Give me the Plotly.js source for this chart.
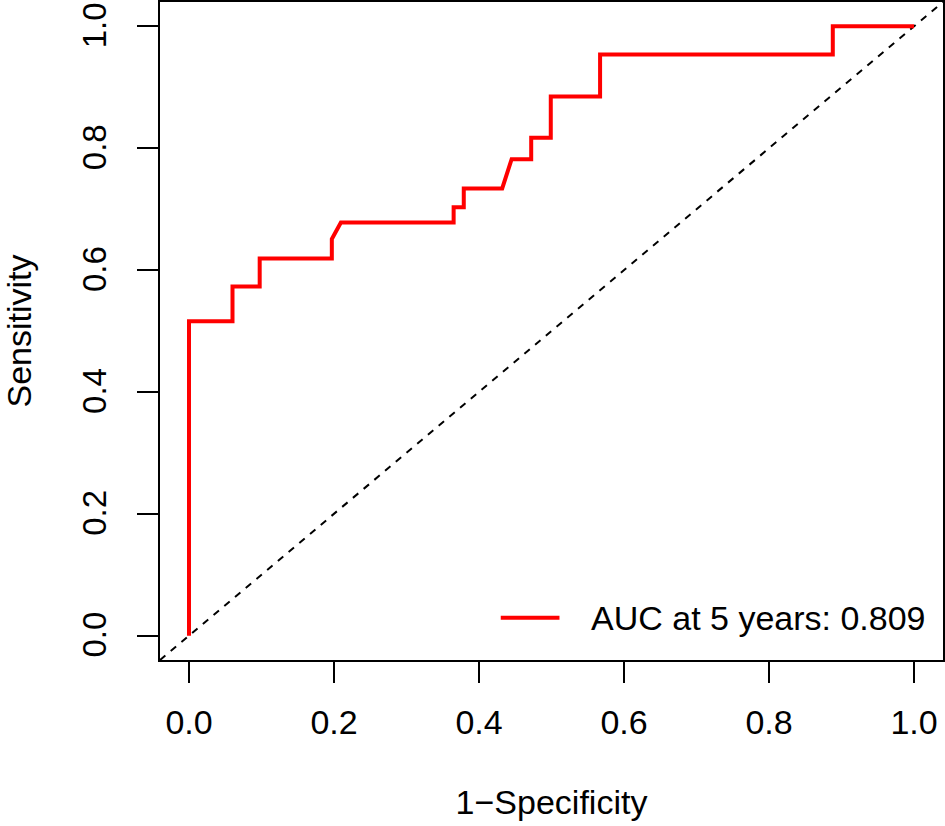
<!DOCTYPE html>
<html>
<head>
<meta charset="utf-8">
<script src="https://cdn.plot.ly/plotly-3.0.1.min.js"></script>
<style>
  html, body { margin: 0; padding: 0; background: #fff; }
  #roc { width: 945px; height: 826px; }
</style>
</head>
<body>
<div id="roc"></div>
<script>
// ROC points (1-specificity, sensitivity)
var fpr = [0, 0, 0.060, 0.060, 0.0975, 0.0975, 0.197, 0.197, 0.2095, 0.365, 0.365, 0.379, 0.379,
           0.432, 0.445, 0.472, 0.472, 0.499, 0.499, 0.567, 0.567, 0.888, 0.888, 1.0];
var tpr = [0, 0.516, 0.516, 0.573, 0.573, 0.619, 0.619, 0.651, 0.678, 0.678, 0.703, 0.703, 0.734,
           0.734, 0.782, 0.782, 0.817, 0.817, 0.885, 0.885, 0.954, 0.954, 1.0, 1.0];
var aucLabel = 'AUC at 5 years: 0.809';
var tickVals = [0, 0.2, 0.4, 0.6, 0.8, 1.0];
var tickText = ['0.0', '0.2', '0.4', '0.6', '0.8', '1.0'];
var axisRange = [-0.04, 1.04];

var fnt = { family: 'Liberation Sans, Arial, sans-serif', size: 34, color: '#000' };
var yTickFnt = { family: fnt.family, size: 33, color: '#000' };

var roc = {
  x: fpr, y: tpr, type: 'scatter', mode: 'lines',
  line: { color: '#ff0000', width: 4 },
  showlegend: false, hoverinfo: 'skip'
};
// chance line, abline(0, 1)
var chance = {
  x: axisRange, y: axisRange, type: 'scatter', mode: 'lines',
  line: { color: '#000', width: 2, dash: '7px,7px' },
  showlegend: false, hoverinfo: 'skip'
};

function axis(title, angle, standoff, shift, tf, titleGap) {
  return {
    range: axisRange, fixedrange: true,
    tickvals: tickVals, ticktext: tickText, tickangle: angle,
    ticks: 'outside', ticklen: 21, tickwidth: 2, tickcolor: '#000',
    ticklabelstandoff: standoff, ticklabelshift: shift, ticklabeloverflow: 'allow',
    showline: true, mirror: true, linewidth: 2, linecolor: '#000',
    showgrid: false, zeroline: false,
    tickfont: tf,
    title: { text: title, font: fnt, standoff: titleGap }
  };
}

var layout = {
  width: 945, height: 826,
  margin: { l: 160, r: 2, t: 2, b: 166 },
  paper_bgcolor: '#fff', plot_bgcolor: '#fff',
  font: fnt,
  xaxis: axis('1\u2212Specificity', 0, 10, 0, fnt, 50),
  yaxis: axis('Sensitivity', -90, 18, 4, yTickFnt, 40),
  shapes: [
    { type: 'line', xref: 'x', yref: 'y', x0: 0.430, x1: 0.511, y0: 0.0295, y1: 0.0295,
      line: { color: '#ff0000', width: 4 } }
  ],
  annotations: [
    { xref: 'x', yref: 'y', x: 0.552, y: 0.0295, text: aucLabel, showarrow: false,
      xanchor: 'left', yanchor: 'middle', font: fnt }
  ]
};

Plotly.newPlot('roc', [chance, roc], layout, { displayModeBar: false, staticPlot: true });
</script>
</body>
</html>
